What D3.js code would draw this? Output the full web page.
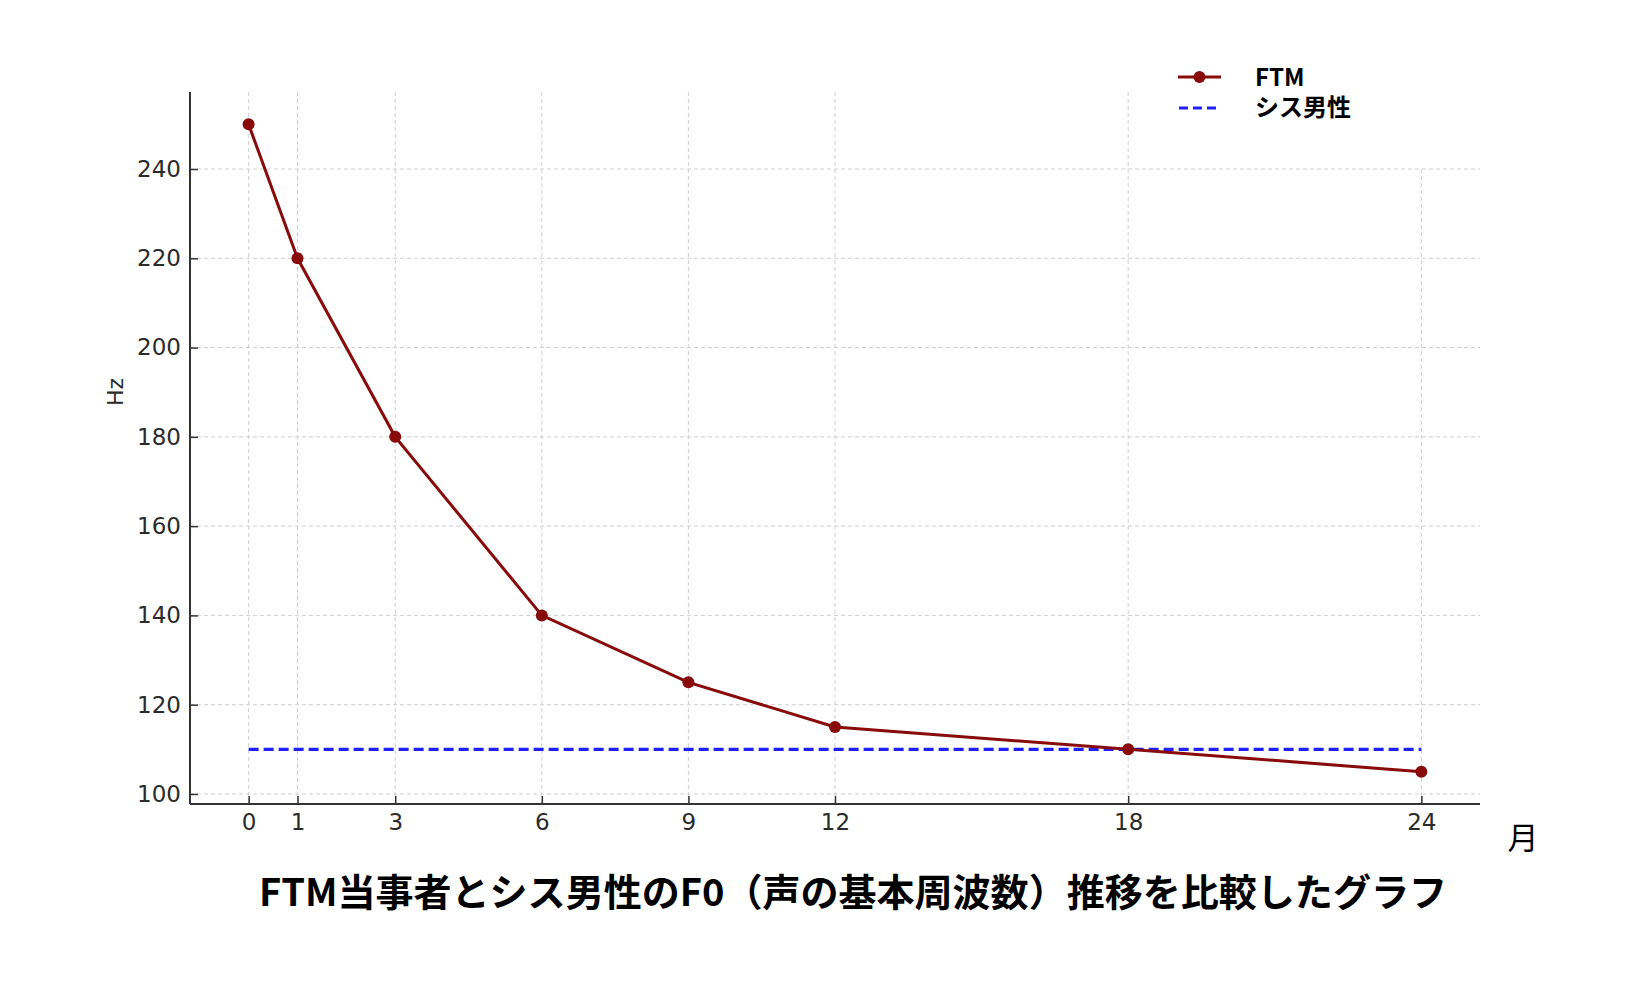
<!DOCTYPE html>
<html><head><meta charset="utf-8">
<script src="https://cdn.jsdelivr.net/npm/d3@7"></script>
<style>
html,body{margin:0;padding:0;background:#fff;}
svg{display:block;}
</style></head>
<body>
<svg id="c" width="1636" height="988"></svg>
<script>
const months = [0, 1, 3, 6, 9, 12, 18, 24];
const ftmValues = [250, 220, 180, 140, 125, 115, 110, 105];
const cisMaleValue = 110;
const yTicks = [100, 120, 140, 160, 180, 200, 220, 240];
const xTicks = months;
const seriesNames = ["FTM", "シス男性"];
const titleText = "FTM当事者とシス男性のF0（声の基本周波数）推移を比較したグラフ";
const xLabel = "月";
const yLabel = "Hz";

const svg = d3.select("#c");
const L = 190, R = 1480, T = 92, B = 804;
const x = d3.scaleLinear().domain([-1.2, 25.2]).range([L, R]);
const y = d3.scaleLinear().domain([97.75, 257.25]).range([B, T]);
const font = "'DejaVu Sans', sans-serif";
const cjk = "'Noto Sans CJK JP', 'DejaVu Sans', sans-serif";
const red = "#880a0a", blue = "#2020ff";

// grid
const grid = svg.append("g").attr("stroke", "#cfcfcf").attr("stroke-width", 1).attr("stroke-dasharray", "4,3");
grid.selectAll("line.v").data(xTicks).join("line")
  .attr("x1", d => x(d)).attr("x2", d => x(d)).attr("y1", T).attr("y2", B);
grid.selectAll("line.h").data(yTicks).join("line")
  .attr("x1", L).attr("x2", R).attr("y1", d => y(d)).attr("y2", d => y(d));

// axes
const xAxis = d3.axisBottom(x).tickValues(xTicks).tickSizeInner(-8).tickSizeOuter(0).tickPadding(10);
const yAxis = d3.axisLeft(y).tickValues(yTicks).tickSizeInner(-8).tickSizeOuter(0).tickPadding(9);
const gx = svg.append("g").attr("transform", `translate(0,${B})`).call(xAxis);
const gy = svg.append("g").attr("transform", `translate(${L},0)`).call(yAxis);
[gx, gy].forEach(g => {
  g.select(".domain").attr("stroke", "#333").attr("stroke-width", 2);
  g.selectAll(".tick line").attr("stroke", "#333").attr("stroke-width", 1.5);
  g.selectAll(".tick text").attr("fill", "#2b2b2b").attr("font-family", font).attr("font-size", 23);
});
gx.select(".domain").attr("d", `M${L},0H${R}`);
gy.select(".domain").attr("d", `M0,${B}V${T}`);

// cis male line
svg.append("line")
  .attr("x1", x(months[0])).attr("x2", x(months[months.length - 1]))
  .attr("y1", y(cisMaleValue)).attr("y2", y(cisMaleValue))
  .attr("stroke", blue).attr("stroke-width", 3.2).attr("stroke-dasharray", "10,5");

// FTM line
const pts = months.map((m, i) => [m, ftmValues[i]]);
svg.append("path").datum(pts)
  .attr("fill", "none").attr("stroke", red).attr("stroke-width", 3)
  .attr("d", d3.line().x(d => x(d[0])).y(d => y(d[1])));
svg.selectAll("circle.pt").data(pts).join("circle")
  .attr("cx", d => x(d[0])).attr("cy", d => y(d[1])).attr("r", 6).attr("fill", red);

// legend
const lg = svg.append("g");
lg.append("rect").attr("x", 1173).attr("y", 64).attr("width", 302).attr("height", 103).attr("fill", "#fff");
lg.append("line").attr("x1", 1178).attr("x2", 1221).attr("y1", 77).attr("y2", 77)
  .attr("stroke", red).attr("stroke-width", 3);
lg.append("circle").attr("cx", 1199.5).attr("cy", 77).attr("r", 6).attr("fill", red);
lg.append("line").attr("x1", 1179).attr("x2", 1221).attr("y1", 108).attr("y2", 108)
  .attr("stroke", blue).attr("stroke-width", 3.2).attr("stroke-dasharray", "9,5");
lg.selectAll("text").data(seriesNames).join("text")
  .attr("x", 1255).attr("y", (d, i) => 77 + i * 30).attr("dy", "0.36em")
  .attr("font-family", cjk).attr("font-weight", "bold").attr("font-size", 24).attr("fill", "#000")
  .text(d => d);

// axis labels
svg.append("text").attr("transform", "translate(115,392) rotate(-90)")
  .attr("text-anchor", "middle").attr("dy", "0.36em")
  .attr("font-family", font).attr("font-size", 22).attr("fill", "#2b2b2b").text(yLabel);
svg.append("text").attr("x", 1523).attr("y", 838).attr("text-anchor", "middle").attr("dy", "0.36em")
  .attr("font-family", cjk).attr("font-size", 31).attr("fill", "#000").text(xLabel);

// title
svg.append("text").attr("x", 259).attr("y", 892).attr("dy", "0.36em")
  .attr("font-family", cjk).attr("font-weight", "bold").attr("font-size", 38).attr("fill", "#000")
  .attr("textLength", 1188).attr("lengthAdjust", "spacingAndGlyphs")
  .text(titleText);
</script>
</body></html>
